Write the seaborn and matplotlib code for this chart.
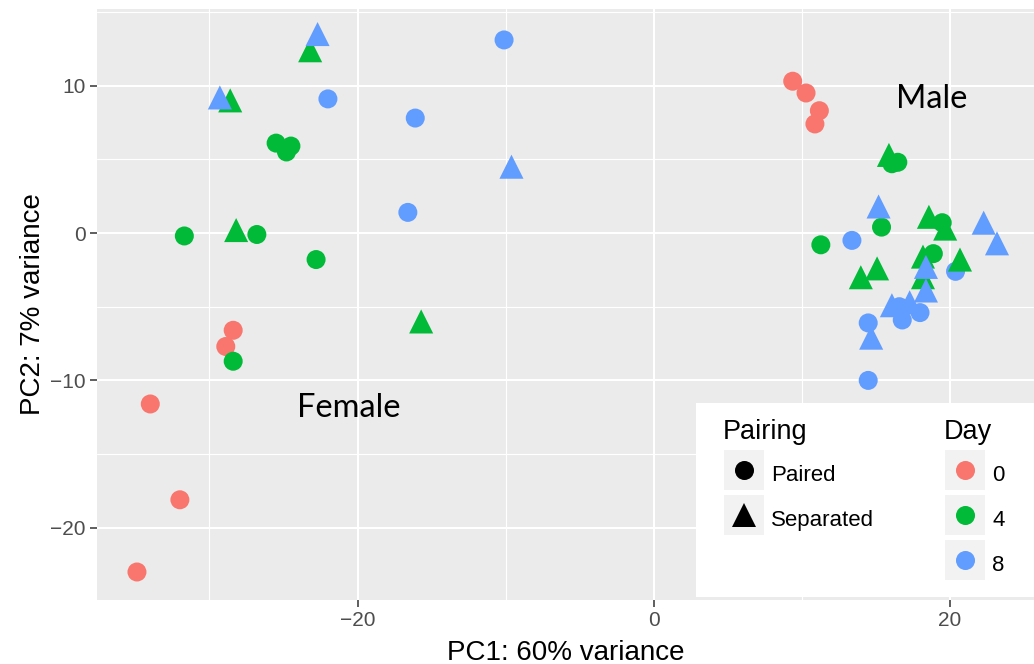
import numpy as np
import pandas as pd
import seaborn as sns
import matplotlib.pyplot as plt
from matplotlib.lines import Line2D
from matplotlib.patches import Rectangle

# PCA scores, grouped by day and pairing
day0_paired_pc1 = [-34.9, -32.0, -34.0, -28.4, -28.9, 9.4, 10.3, 11.2, 10.9]
day0_paired_pc2 = [-23.0, -18.1, -11.6, -6.6, -7.7, 10.3, 9.5, 8.3, 7.4]
day4_paired_pc1 = [-28.4, -31.7, -26.8, -25.5, -24.8, -24.5, -22.8, 11.3, 15.4, 16.1, 16.5, 19.5, 18.9]
day4_paired_pc2 = [-8.7, -0.2, -0.1, 6.1, 5.5, 5.9, -1.8, -0.8, 0.4, 4.7, 4.8, 0.7, -1.4]
day4_sep_pc1 = [-28.6, -23.2, -28.2, -15.7, 15.9, 18.6, 19.7, 20.7, 15.1, 14.0, 18.2, 18.2]
day4_sep_pc2 = [9.0, 12.4, 0.2, -6.0, 5.3, 1.1, 0.3, -1.8, -2.4, -3.0, -1.6, -3.0]
day8_paired_pc1 = [-10.1, -22.0, -16.1, -16.6, 13.4, 20.4, 14.5, 16.8, 18.0, 14.5, 16.6]
day8_paired_pc2 = [13.1, 9.1, 7.8, 1.4, -0.5, -2.6, -6.1, -5.9, -5.4, -10.0, -5.0]
day8_sep_pc1 = [-29.3, -22.7, -9.6, 15.2, 22.3, 23.2, 18.4, 18.4, 16.1, 17.3, 14.7]
day8_sep_pc2 = [9.2, 13.5, 4.5, 1.8, 0.7, -0.7, -2.3, -3.9, -4.9, -4.7, -7.1]

days = ["0", "4", "8"]
pairings = ["Paired", "Separated"]
day_colors = ["#F8766D", "#00BA38", "#619CFF"]
x_ticks = [-20, 0, 20]
y_ticks = [-20, -10, 0, 10]

groups = [
    ("0", "Paired", day0_paired_pc1, day0_paired_pc2),
    ("4", "Paired", day4_paired_pc1, day4_paired_pc2),
    ("8", "Paired", day8_paired_pc1, day8_paired_pc2),
    ("4", "Separated", day4_sep_pc1, day4_sep_pc2),
    ("8", "Separated", day8_sep_pc1, day8_sep_pc2),
]
frames = []
for d, p, xs, ys in groups:
    frames.append(pd.DataFrame({"PC1": xs, "PC2": ys, "Day": d, "Pairing": p}))
pca = pd.concat(frames, ignore_index=True)

sns.set_theme(style="darkgrid", rc={"axes.facecolor": "#EBEBEB", "grid.color": "white",
                                    "text.color": "black", "axes.labelcolor": "black"})
plt.rcParams["font.family"] = ["Liberation Sans", "DejaVu Sans"]

fig = plt.figure(figsize=(10.34, 6.64), dpi=100)
ax = fig.add_axes([97 / 1034, 64 / 664, 1 - 97 / 1034, 591 / 664])

palette = dict(zip(days, day_colors))
sns.scatterplot(data=pca[pca["Pairing"] == "Paired"], x="PC1", y="PC2", hue="Day",
                hue_order=days, palette=palette, marker="o", s=187, linewidth=0,
                legend=False, ax=ax)
sns.scatterplot(data=pca[pca["Pairing"] == "Separated"], x="PC1", y="PC2", hue="Day",
                hue_order=days, palette=palette, marker="^", s=300, linewidth=0,
                legend=False, ax=ax)

ax.set_xlim(-37.6, 25.7)
ax.set_ylim(-24.9, 15.2)
ax.set_xticks(x_ticks)
ax.set_yticks(y_ticks)
ax.set_xticks([-30, -10, 10], minor=True)
ax.set_yticks([-15, -5, 5, 15], minor=True)
ax.set_xticklabels(["\u221220", "0", "20"])
ax.set_yticklabels(["\u221220", "\u221210", "0", "10"])
ax.grid(which="major", color="white", linewidth=1.5)
ax.grid(which="minor", color="white", linewidth=0.8)
for s in ax.spines.values():
    s.set_visible(False)
ax.tick_params(which="major", length=5, width=1.1, color="#333333",
               labelcolor="#4D4D4D", labelsize=15, pad=3, bottom=True, left=True)
ax.tick_params(which="minor", length=0)
ax.set_xlabel("PC1: 60% variance", fontsize=20, labelpad=7)
ax.set_ylabel("PC2: 7% variance", fontsize=20, labelpad=3)

# sex annotations
ax.text(-20.6, -11.9, "Female", family="Lato", fontsize=23.5, ha="center", va="center")
ax.text(18.8, 9.1, "Male", family="Lato", fontsize=23.5, ha="center", va="center")

# legend background box
ax.add_patch(Rectangle((696 / 1034, 1 - 597 / 664), 1 - 696 / 1034, 194 / 664,
                       transform=fig.transFigure, facecolor="white",
                       edgecolor="none", zorder=3, clip_on=False))

key = dict(marker="s", markersize=29.5, color="#F2F2F2", linestyle="None", markeredgewidth=0)
pair_handles = [
    (Line2D([], [], **key), Line2D([], [], marker="o", color="black", markersize=13.7,
                                   linestyle="None", markeredgewidth=0)),
    (Line2D([], [], **key), Line2D([], [], marker="^", color="black", markersize=17.3,
                                   linestyle="None", markeredgewidth=0)),
]
day_handles = [
    (Line2D([], [], **key), Line2D([], [], marker="o", color=c, markersize=13.7,
                                   linestyle="None", markeredgewidth=0))
    for c in day_colors
]
leg_kw = dict(frameon=False, fontsize=16, title_fontsize=19.5, handlelength=1.85,
              handleheight=1.85, labelspacing=0.58, handletextpad=0.32, borderpad=0,
              borderaxespad=0, alignment="left", loc="upper left", labelcolor="black")
leg1 = fig.legend(pair_handles, pairings, title="Pairing",
                  bbox_to_anchor=(723 / 1034, 1 - 419 / 664), **leg_kw)
leg2 = fig.legend(day_handles, days, title="Day",
                  bbox_to_anchor=(944 / 1034, 1 - 419 / 664), **leg_kw)

fig.savefig("out.png", dpi=100)
